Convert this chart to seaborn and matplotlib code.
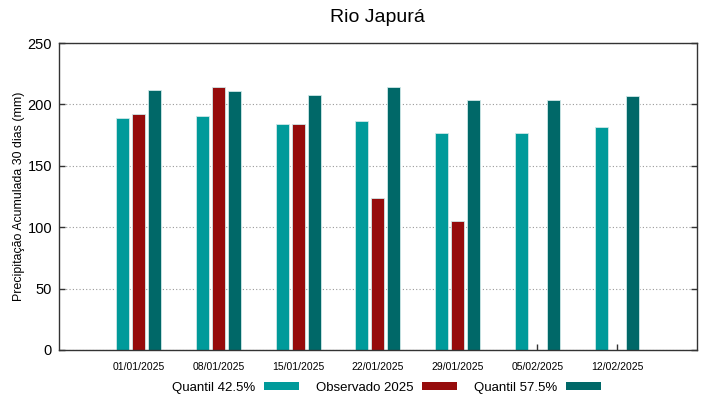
import numpy as np
import pandas as pd
import matplotlib
matplotlib.use("Agg")
import matplotlib.pyplot as plt
import seaborn as sns
from matplotlib.patches import Patch

# %%
datas = ["01/01/2025", "08/01/2025", "15/01/2025", "22/01/2025",
         "29/01/2025", "05/02/2025", "12/02/2025"]
q425 = [189, 190.5, 184, 186.5, 176.5, 176.5, 181.5]
observado = [192, 214, 184, 124, 105, np.nan, np.nan]
q575 = [212, 211, 207.5, 214, 204, 203.5, 207]

series = ["Quantil 42.5%", "Observado 2025", "Quantil 57.5%"]
cores = ["#009a9a", "#960c0c", "#006868"]

df = pd.DataFrame({"data": datas, series[0]: q425, series[1]: observado, series[2]: q575})
df = df.melt(id_vars="data", var_name="serie", value_name="valor")

# %%
sns.set_style("white", {"xtick.bottom": True, "ytick.left": True, "ytick.right": True,
                        "text.color": "black", "xtick.color": "black", "ytick.color": "black",
                        "axes.labelcolor": "black"})
plt.rcParams["font.family"] = ["Liberation Sans", "DejaVu Sans"]

fig = plt.figure(figsize=(7.19, 3.99), dpi=100)
ax = fig.add_axes([0.082, 0.123, 0.887, 0.769])
sns.barplot(data=df, x="data", y="valor", hue="serie", hue_order=series,
            palette=cores, width=0.6, gap=0.18, saturation=1,
            edgecolor="#cfe8e8", linewidth=0.6, ax=ax, legend=False)

ax.set_xlim(-1, 7)
ax.set_ylim(0, 250)
ax.set_yticks(range(0, 251, 50))
ax.yaxis.grid(True, linestyle=(0, (1, 2)), color="#999999", linewidth=0.8)
ax.set_axisbelow(True)
for s in ax.spines.values():
    s.set_color("#333333")
    s.set_linewidth(1)
ax.tick_params(axis="y", which="both", direction="in", length=4, width=1, color="#333333",
               labelsize=10.5, right=True, left=True, pad=5)
ax.tick_params(axis="x", direction="in", length=4, width=1, color="#333333",
               labelsize=7.5, pad=9, top=False)
ax.set_xlabel("")
ax.set_ylabel("Precipitação Acumulada 30 dias (mm)", fontsize=8.9, labelpad=2)
ax.set_title("Rio Japurá", fontsize=14, pad=15)

handles = [Patch(facecolor=c, edgecolor="none") for c in cores]
fig.legend(handles, series, loc="center", bbox_to_anchor=(0.538, 0.028), ncol=3,
           markerfirst=False, frameon=False, fontsize=9.5, handlelength=2.7,
           handleheight=0.5, columnspacing=1.3, handletextpad=0.6)

fig.savefig("out.png", dpi=100)
